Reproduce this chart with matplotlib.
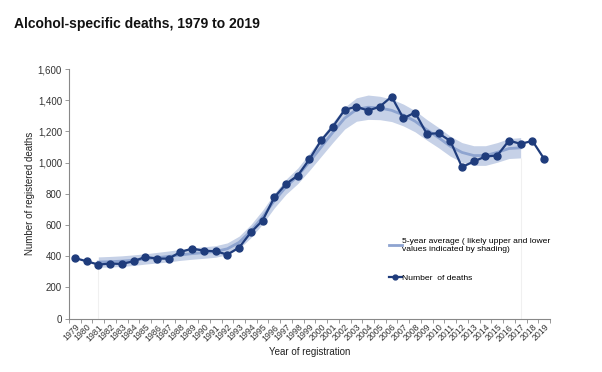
import matplotlib
matplotlib.use("Agg")
import matplotlib.pyplot as plt
from matplotlib.lines import Line2D
import numpy as np

plt.rcParams['font.family'] = ['Liberation Sans', 'DejaVu Sans']

years = list(range(1979, 2020))
deaths = [388, 367, 346, 352, 350, 367, 395, 384, 384, 427,
          448, 435, 431, 410, 455, 552, 628, 777, 863, 917,
          1022, 1143, 1231, 1338, 1359, 1333, 1359, 1423, 1284, 1321,
          1184, 1188, 1139, 971, 1007, 1039, 1045, 1141, 1120, 1139,
          1024]

avg_years = list(range(1981, 2018))
avg = [362, 364, 368, 374, 382, 390, 398, 408, 416, 423,
       430, 447, 488, 560, 650, 755, 845, 915, 1005, 1100,
       1195, 1285, 1340, 1355, 1350, 1335, 1305, 1265, 1210, 1160,
       1105, 1065, 1045, 1045, 1065, 1090, 1095]
upper = [395, 398, 402, 408, 415, 424, 433, 443, 452, 460,
         467, 485, 528, 602, 694, 801, 893, 965, 1060, 1160,
         1260, 1355, 1415, 1433, 1425, 1407, 1375, 1333, 1276, 1225,
         1169, 1128, 1108, 1108, 1128, 1154, 1160]
lower = [329, 330, 334, 340, 349, 356, 363, 373, 380, 386,
         393, 409, 448, 518, 606, 709, 797, 865, 950, 1040,
         1130, 1215, 1265, 1277, 1275, 1263, 1235, 1197, 1144, 1095,
         1041, 1002, 982, 982, 1002, 1026, 1030]

yticks = [0, 200, 400, 600, 800, 1000, 1200, 1400, 1600]

navy = "#1f3c7c"
avgc = "#8ea4d0"
bandc = "#c6d1e7"

fig = plt.figure(figsize=(6.02, 3.72), dpi=100)
ax = fig.add_axes([0.1146, 0.1438, 0.799, 0.6707])

x = np.arange(len(years))
xa = np.array([years.index(y) for y in avg_years])

ax.fill_between(xa, lower, upper, color=bandc, lw=0, zorder=1)
ax.vlines([xa[0], xa[-1]], 0, [lower[0], lower[-1]], color="#f0f0f0", lw=0.8, zorder=0)
ax.plot(xa, avg, color=avgc, lw=2.0, zorder=2)
ax.plot(x, deaths, color=navy, lw=1.6, marker='o', ms=5, zorder=3)

ax.set_xlim(-0.5, len(years) - 0.5)
ax.set_ylim(0, 1600)
ax.set_yticks(yticks)
ax.set_yticklabels([f"{v:,}" for v in yticks], fontsize=7, color="#333333")
ax.set_xticks(x)
ax.set_xticklabels([str(y) for y in years], rotation=45, ha='right',
                   rotation_mode='anchor', fontsize=6.3, color="#333333")
ax.tick_params(axis='x', length=0, pad=3)
ax.set_xticks(np.arange(-0.5, len(years), 1), minor=True)
ax.tick_params(axis='x', which='minor', length=3, color="#888888", width=0.6)
ax.tick_params(axis='y', length=3, color="#888888", width=0.6, pad=2)

for s in ['top', 'right']:
    ax.spines[s].set_visible(False)
for s in ['left', 'bottom']:
    ax.spines[s].set_color("#888888")
    ax.spines[s].set_linewidth(0.8)

ax.set_ylabel("Number of registered deaths", fontsize=7, color="#222222", labelpad=2)
ax.set_xlabel("Year of registration", fontsize=7, color="#222222", labelpad=3)

handles = [Line2D([], [], color=avgc, lw=2.0),
           Line2D([], [], color=navy, lw=1.6, marker='o', ms=3.5)]
labels = ["5-year average ( likely upper and lower\nvalues indicated by shading)",
          "Number  of deaths"]
leg = ax.legend(handles, labels, loc='upper left', bbox_to_anchor=(0.658, 0.335),
                frameon=False, fontsize=6.1, handlelength=1.5, handletextpad=0.1,
                labelspacing=2.4, borderaxespad=0)

fig.text(0.023, 0.935, "Alcohol-specific deaths, 1979 to 2019", fontsize=10,
         fontweight='bold', color="#111111", va='center', ha='left')

fig.savefig("out.png", dpi=100)
